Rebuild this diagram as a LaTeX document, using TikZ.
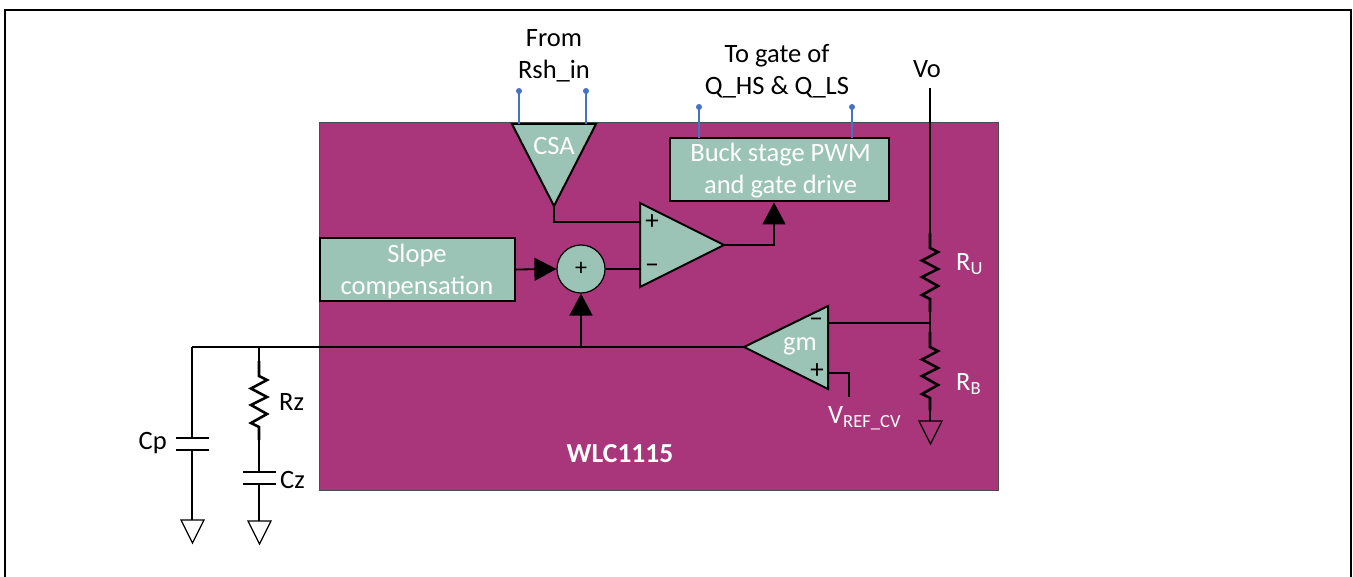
\documentclass[tikz,border=0pt]{standalone}
\usepackage{fontspec}
\setmainfont{Carlito}
\usetikzlibrary{arrows.meta}
\definecolor{chipcol}{HTML}{A9357A}
\definecolor{blockcol}{HTML}{9BC3B6}
\definecolor{pincol}{HTML}{4472C4}
\tikzset{
	blockbox/.style={draw=black,fill=blockcol,line width=2pt,inner sep=0pt},
	amp/.style={draw=black,fill=blockcol,line width=2pt,line join=miter},
	lbl/.style={font=\fontsize{26.5}{32}\selectfont,align=center,inner sep=0pt},
	sign/.style={font=\fontsize{27}{27}\selectfont,inner sep=0pt},
	wire/.style={draw=black,line width=1.8pt},
	feed/.style={wire,-{Triangle[length=22pt,width=23pt]}},
	pin/.style={draw=pincol,line width=1.5pt},
	pindot/.style={circle,fill=pincol,inner sep=0pt,minimum size=6pt},
	gnd/.style={draw=black,line width=1.2pt,fill=none},
	capplate/.style={draw=black,line width=1.5pt},
	resistor/.pic={
		\draw[black,line width=2.6pt,line join=miter] (0,0) -- (0,15) -- (8,19) -- (-8,27.5) -- (8,36) -- (-8,44) -- (8,53) -- (-8,62) -- (0,66) -- (0,79);
	}
}
\begin{document}
\begin{tikzpicture}[x=1pt,y=-1pt]
\useasboundingbox (0,0) rectangle (1353,577);
\draw[line width=2.6pt] (5,577) -- (5,10) -- (1351,10) -- (1351,577);

% chip body
\node[draw=black!70,line width=.8pt,fill=chipcol,minimum width=679pt,minimum height=368pt,inner sep=0pt,anchor=north west] (chip) at (319,122) {};
\node[lbl,text=white,font=\fontsize{27.5}{27.5}\selectfont\bfseries] (chipname) at (620,454) {WLC1115};

% blocks
\node[blockbox,minimum width=219pt,minimum height=63pt] (pwm) at (779.5,170) {};
\node[lbl,text=white] (pwmtext) at (780.5,171) {Buck stage PWM\\and gate drive};
\node[blockbox,minimum width=195pt,minimum height=63pt] (slope) at (417,269.5) {};
\node[lbl,text=white] (slopetext) at (417,271) {Slope\\compensation};
\node[circle,draw=black,fill=blockcol,line width=1.2pt,minimum size=48pt,inner sep=0pt,font=\fontsize{24}{24}\selectfont] (sum) at (581,269) {+};

% amplifiers
\coordinate (csaL) at (512,124);
\coordinate (csaR) at (596,124);
\coordinate (csaT) at (554,206);
\draw[amp] (csaL) -- (csaR) -- (csaT) -- cycle;
\node[lbl,text=white] (csa) at (554,146) {CSA};

\coordinate (cmpA) at (640,203);
\coordinate (cmpB) at (640,287);
\coordinate (cmpT) at (724,245);
\draw[amp] (cmpA) -- (cmpB) -- (cmpT) -- cycle;
\node[sign] (cmpP) at (652,222) {+};
\node[sign] (cmpM) at (652,269) {−};

\coordinate (gmA) at (828,306);
\coordinate (gmB) at (828,389);
\coordinate (gmT) at (744,347);
\draw[amp] (gmA) -- (gmB) -- (gmT) -- cycle;
\node[lbl,text=white] (gm) at (800,346) {gm};
\node[sign] (gmM) at (816,323) {−};
\node[sign] (gmP) at (817,371) {+};

% junctions and free ends
\coordinate (pinA) at (519,91);
\coordinate (pinB) at (586,91);
\coordinate (pinC) at (699,107);
\coordinate (pinD) at (852,107);
\coordinate (vtop) at (930,88);
\coordinate (vmid) at (930,323);
\coordinate (lcorner) at (192,347);
\coordinate (rztop) at (259,347);
\coordinate (sumin) at (581,347);
\coordinate (vrefend) at (849,397);
\coordinate (cpbot) at (192,520);
\coordinate (czbot) at (259,521);

% pins
\draw[pin] (pinA) -- (519,124);
\draw[pin] (pinB) -- (586,124);
\draw[pin] (pinC) -- (699,138);
\draw[pin] (pinD) -- (852,138);
\foreach \p in {pinA,pinB,pinC,pinD}
	\node[pindot] at (\p) {};

% signal wires
\draw[wire] (csaT) -- (554,222) -- (640,222);
\draw[wire] (sum) -- (640,269);
\draw[feed] (cmpT) -| (pwm.south -| 774,0);
\draw[feed] (slope.east) -- (sum.west);
\draw[feed] (sumin) -- (sum.south);
\draw[wire] (lcorner) -- (gmT);
\draw[wire] (gmA |- vmid) -- (vmid);
\draw[wire] (828,373) -- (vrefend |- 0,373) -- (vrefend);

% divider
\draw[wire] (vtop) -- (930,234);
\pic at (930,233) {resistor};
\draw[wire] (930,312) -- (vmid) -- (930,333);
\pic at (930,332) {resistor};
\draw[wire] (930,411) -- (930,421);
\draw[gnd] (919,421) -- (942,421) -- (930.5,444) -- cycle;
\node[lbl,text=white,anchor=west] (ru) at (956,264) {R\textsubscript{U}};
\node[lbl,text=white,anchor=west] (rb) at (956,384) {R\textsubscript{B}};
\node[lbl,text=white,anchor=west] (vref) at (828,418) {V\textsubscript{REF\_CV}};

% external network
\draw[wire] (lcorner) -- (192,438);
\draw[capplate] (176,438) -- (209,438);
\draw[capplate] (176,450) -- (209,450);
\draw[wire] (192,450) -- (cpbot);
\draw[gnd] (181,520) -- (204,520) -- (192.5,543) -- cycle;
\draw[wire] (rztop) -- (259,362);
\pic at (259,361) {resistor};
\draw[wire] (259,440) -- (259,472);
\draw[capplate] (243,472) -- (276,472);
\draw[capplate] (243,484) -- (276,484);
\draw[wire] (259,484) -- (czbot);
\draw[gnd] (248,521) -- (271,521) -- (259.5,544) -- cycle;
\node[lbl,anchor=west] (rz) at (279,402) {Rz};
\node[lbl,anchor=east] (cp) at (167,443) {Cp};
\node[lbl,anchor=west] (cz) at (280,480) {Cz};

% outside labels
\node[lbl] (rshin) at (554,56) {From\\Rsh\_in};
\node[lbl] (qgate) at (777,71) {To gate of\\Q\_HS \& Q\_LS};
\node[lbl] (vo) at (927,69) {Vo};
\end{tikzpicture}
\end{document}
